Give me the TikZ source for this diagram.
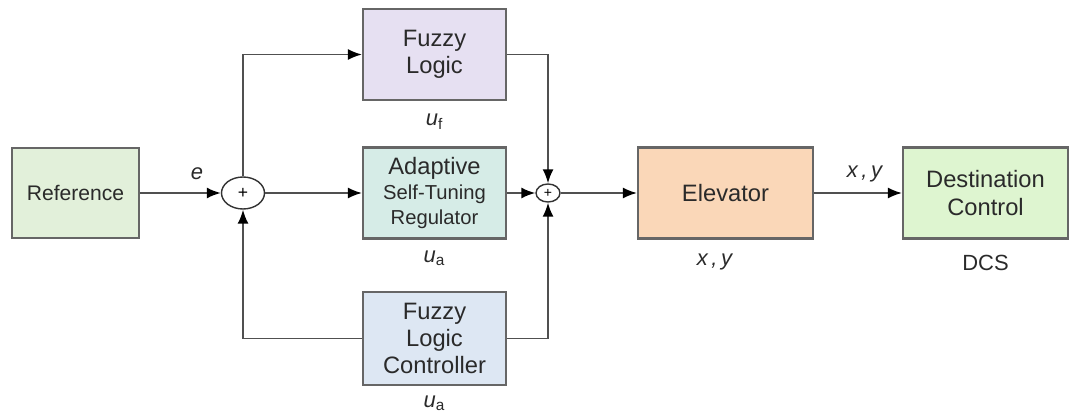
\documentclass[tikz,border=0pt]{standalone}
\usepackage{fontspec}
\setmainfont{Liberation Sans}
\usepackage{xcolor}
\usetikzlibrary{arrows.meta}
\usetikzlibrary{shapes.geometric}

\definecolor{edgegray}{HTML}{666666}
\definecolor{wiregray}{HTML}{505050}
\definecolor{inkgray}{HTML}{2A2A2A}
\definecolor{refgreen}{HTML}{E2F0DA}
\definecolor{fuzzyviolet}{HTML}{E6E0F2}
\definecolor{astrteal}{HTML}{D6ECE7}
\definecolor{flcblue}{HTML}{DDE7F3}
\definecolor{elevpeach}{HTML}{FAD7B8}
\definecolor{dcsgreen}{HTML}{DEF5D0}

\tikzset{
	block/.style={draw=edgegray, line width=1.2pt, align=center, inner sep=0pt,
		text=inkgray, font=\fontsize{13.5}{15.5}\selectfont},
	sumnode/.style={draw=black!80, ellipse, line width=0.8pt, inner sep=0pt},
	arr/.style={draw=wiregray, line width=1pt, -{Latex[length=2.8mm,width=2.2mm,fill=black,color=black]}},
	sig/.style={font=\fontsize{12.5}{14}\selectfont, text=inkgray}
}

\begin{document}
\begin{tikzpicture}
		\useasboundingbox (0,0) rectangle (21.42,8.28);

		% blocks
		\node[block, fill=refgreen, minimum width=2.54cm, minimum height=1.8cm,
			font=\fontsize{12}{14}\selectfont] (ref) at (1.51,4.42) {Reference};
		\node[block, fill=fuzzyviolet, minimum width=2.86cm, minimum height=1.82cm] (fuzzy) at (8.69,7.19) {Fuzzy\\Logic};
		\node[block, fill=astrteal, minimum width=2.86cm, minimum height=1.82cm] (astr) at (8.69,4.42)
			{Adaptive\\[-1pt]{\fontsize{11.5}{13}\selectfont Self-Tuning}\\[-1pt]{\fontsize{11.5}{13}\selectfont Regulator}};
		\node[block, fill=flcblue, minimum width=2.86cm, minimum height=1.86cm] (flc) at (8.69,1.51) {Fuzzy\\Logic\\Controller};
		\node[block, fill=elevpeach, minimum width=3.5cm, minimum height=1.82cm] (elev) at (14.51,4.42) {Elevator};
		\node[block, fill=dcsgreen, minimum width=3.3cm, minimum height=1.82cm] (dcs) at (19.71,4.42) {Destination\\Control};

		% summing junctions
		\node[sumnode, minimum width=0.86cm, minimum height=0.64cm, font=\fontsize{10}{10}\selectfont] (sumA) at (4.86,4.42) {+};
		\node[sumnode, minimum width=0.48cm, minimum height=0.36cm, font=\fontsize{8}{8}\selectfont] (sumB) at (10.96,4.42) {+};

		% signal labels
		\node[sig] (lble) at (3.94,4.8) {\textit{e}};
		\node[sig] (lbluf) at (8.69,5.84) {\textit{u}\textsubscript{f}};
		\node[sig] (lblua) at (8.69,3.12) {\textit{u}\textsubscript{a}};
		\node[sig] (lblub) at (8.69,0.22) {\textit{u}\textsubscript{a}};
		\node[sig] (lblxya) at (17.3,4.8) {\textit{x\,,\,y}};
		\node[sig] (lblxyb) at (14.3,3.04) {\textit{x\,,\,y}};
		\node[sig] (lbldcs) at (19.71,3.02) {DCS};

		\draw[arr] (ref) -- (sumA);
		\draw[arr] (sumA) -- (astr);
		\draw[arr] (sumA) |- (fuzzy);
		\draw[arr] (flc) -| (sumA);
		\draw[arr] (fuzzy) -| (sumB);
		\draw[arr] (flc) -| (sumB);
		\draw[arr] (astr) -- (sumB);
		\draw[arr] (sumB) -- (elev);
		\draw[arr] (elev) -- (dcs);
	\end{tikzpicture}
\end{document}
